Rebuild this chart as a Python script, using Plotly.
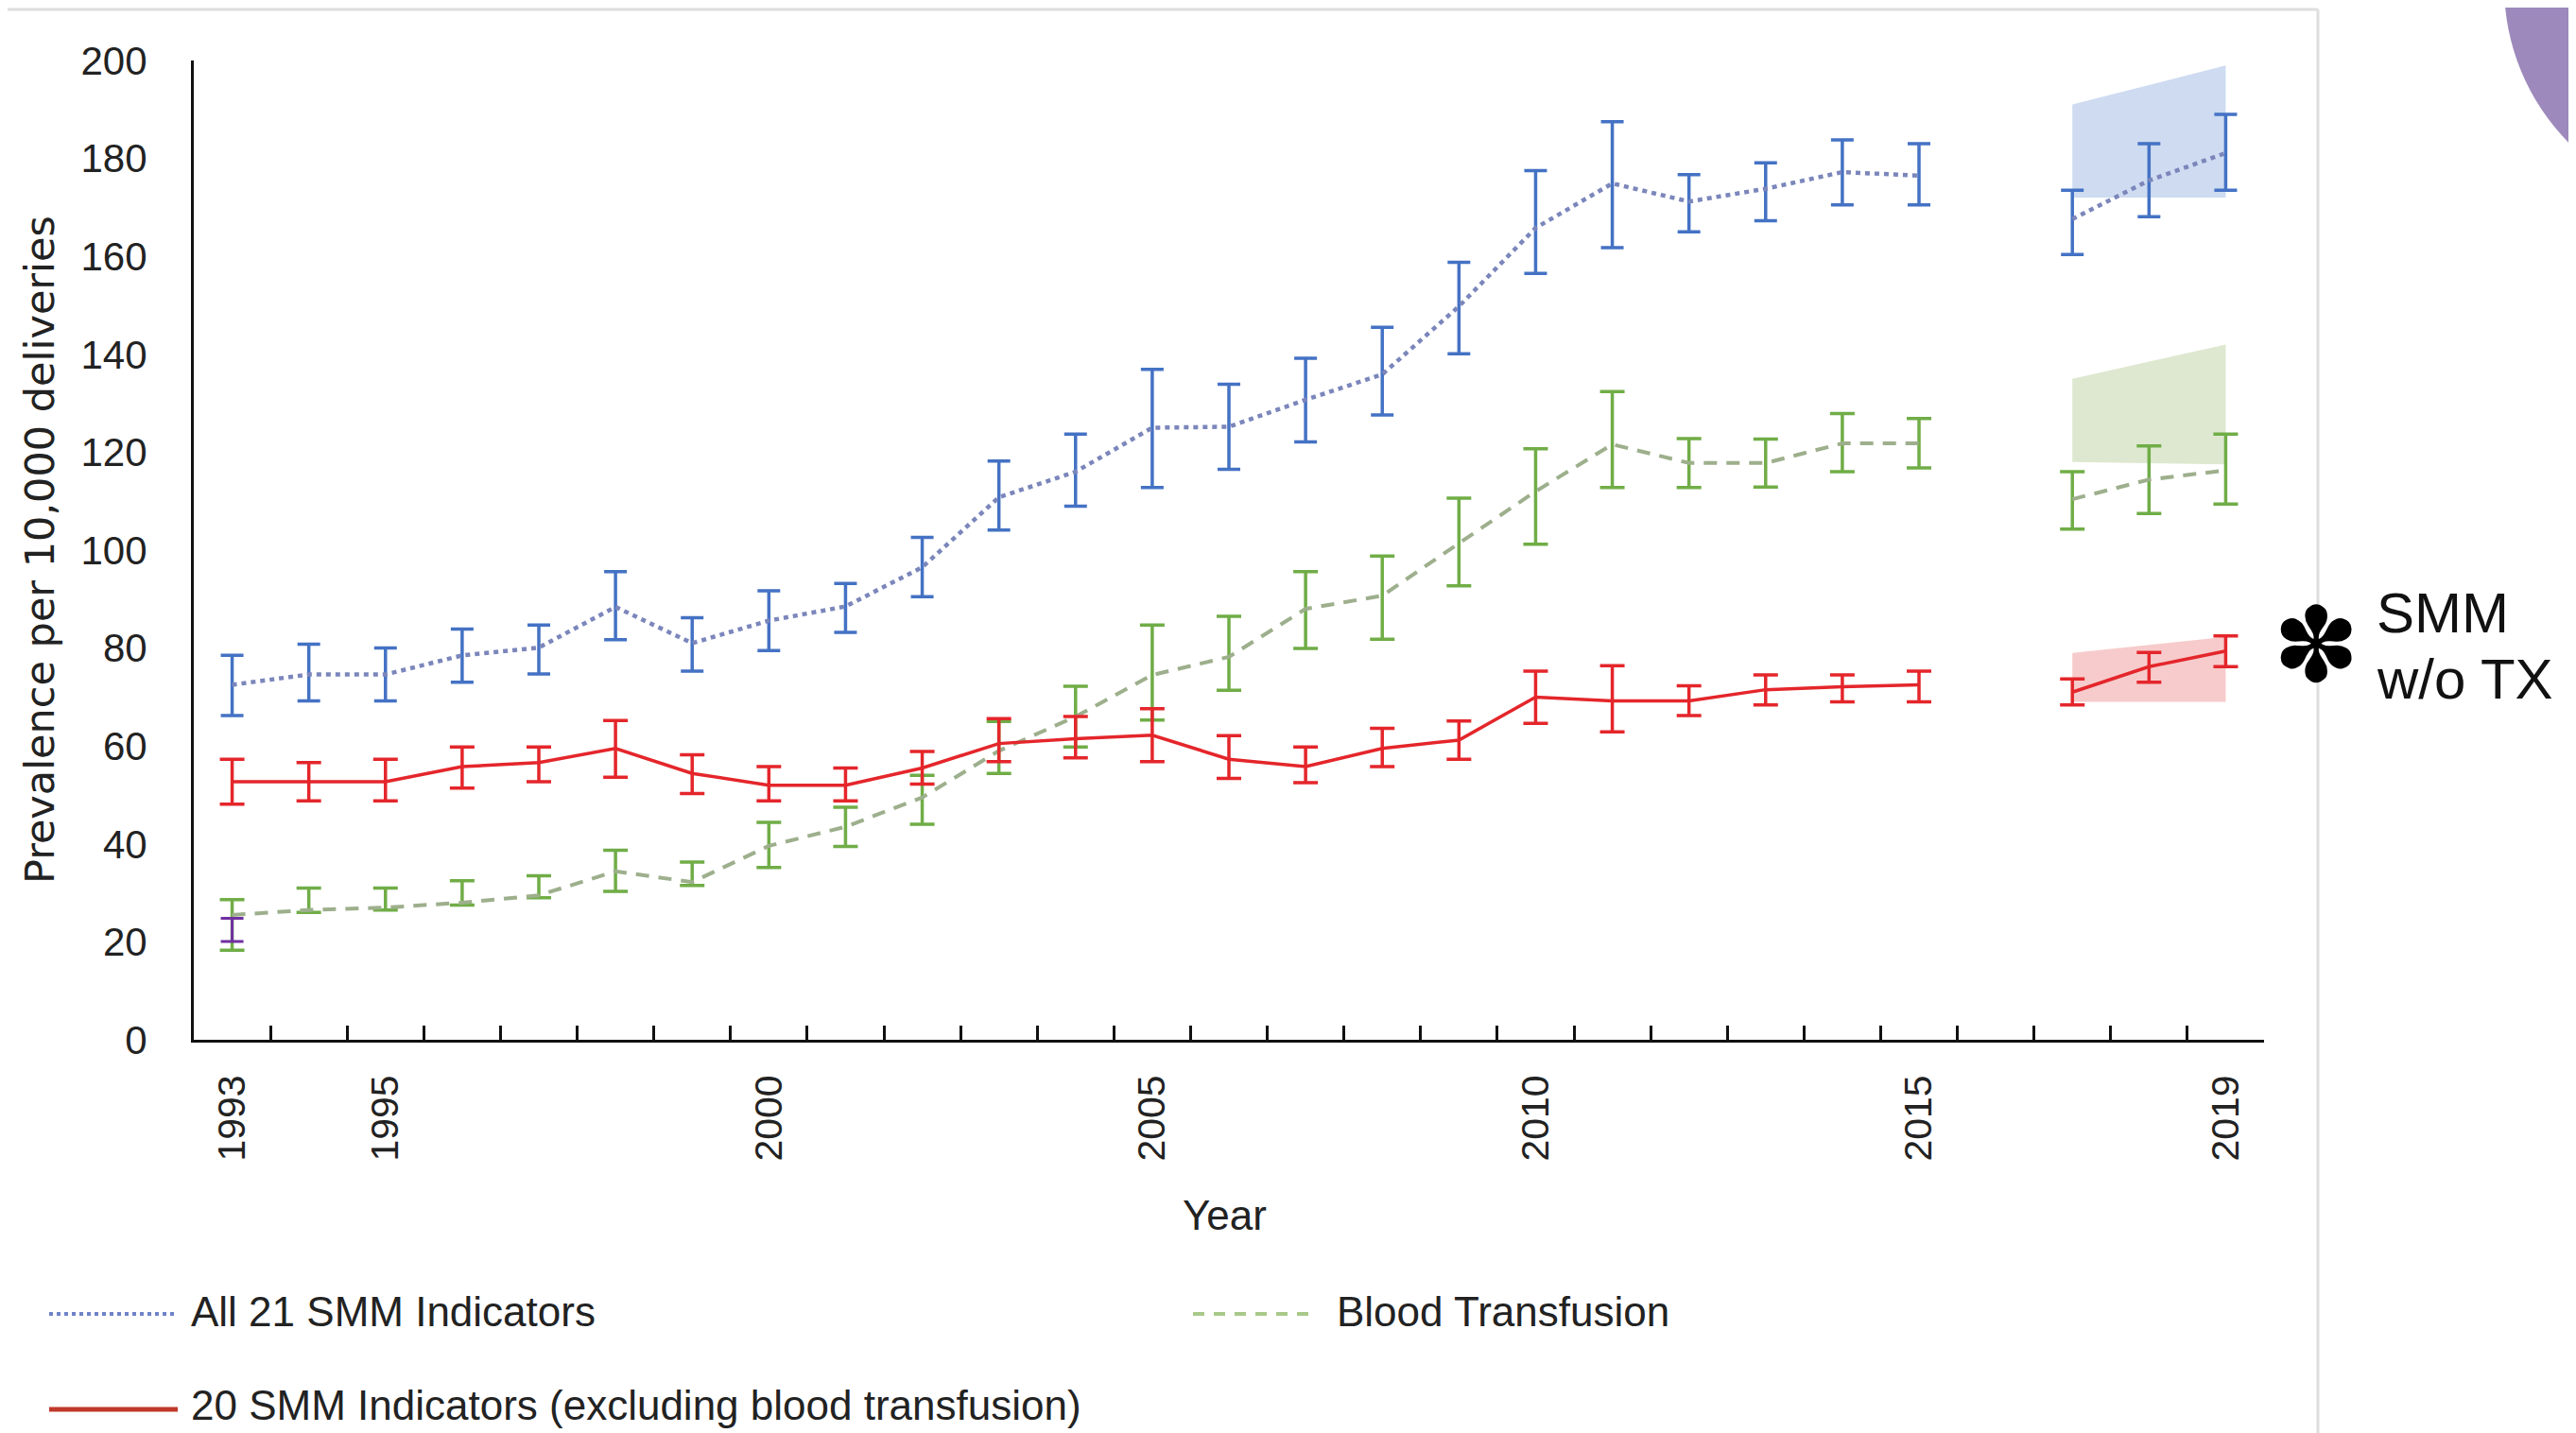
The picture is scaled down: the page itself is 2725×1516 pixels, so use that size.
import plotly.graph_objects as go

# ---------------- data ----------------
years = [1993, 1994, 1995, 1996, 1997, 1998, 1999, 2000, 2001, 2002, 2003, 2004, 2005,
         2006, 2007, 2008, 2009, 2010, 2011, 2012, 2013, 2014, 2015, 2016, 2017, 2018, 2019]

all21_mid = [72.5, 74.6, 74.6, 78.5, 80.1, 88.4, 81.0, 85.6, 88.5, 96.5, 110.8, 116.0, 125.0,
             125.2, 130.7, 135.9, 149.8, 165.8, 174.9, 171.2, 173.8, 177.2, 176.5, None, 167.6, 175.5, 181.1]
all21_hi = [78.5, 80.8, 80.0, 83.9, 84.7, 95.6, 86.2, 91.7, 93.2, 102.6, 118.2, 123.7, 136.9,
            133.9, 139.2, 145.5, 158.8, 177.5, 187.5, 176.7, 179.1, 183.8, 183.0, None, 173.5, 183.0, 189.0]
all21_lo = [66.2, 69.2, 69.2, 73.0, 74.7, 81.7, 75.3, 79.5, 83.2, 90.5, 104.1, 109.0, 112.8,
            116.5, 122.1, 127.6, 140.1, 156.5, 161.8, 165.0, 167.3, 170.5, 170.5, None, 160.4, 168.1, 173.5]

transf_mid = [25.5, 26.5, 27.0, 28.0, 29.5, 34.4, 32.2, 39.6, 43.5, 49.5, 59.0, 66.0, 74.5,
              78.2, 88.0, 90.7, 101.4, 112.0, 121.6, 117.8, 117.8, 121.8, 121.8, None, 110.4, 114.4, 116.3]
transf_hi = [28.6, 31.0, 31.0, 32.5, 33.5, 38.7, 36.3, 44.4, 47.5, 54.0, 65.0, 72.2, 84.7,
             86.5, 95.6, 98.8, 110.6, 120.7, 132.4, 122.8, 122.7, 127.9, 126.9, None, 116.0, 121.3, 123.7]
transf_lo = [18.3, 26.0, 26.5, 27.5, 29.0, 30.3, 31.5, 35.2, 39.5, 44.0, 54.4, 59.8, 65.3,
             71.4, 79.9, 81.8, 92.7, 101.2, 112.8, 112.8, 112.9, 116.0, 116.8, None, 104.3, 107.5, 109.4]

smm20_mid = [52.7, 52.7, 52.7, 55.8, 56.6, 59.5, 54.4, 52.0, 52.0, 55.5, 60.5, 61.5, 62.2,
             57.3, 55.8, 59.5, 61.2, 70.0, 69.2, 69.2, 71.5, 72.1, 72.5, None, 71.0, 76.2, 79.4]
smm20_hi = [57.3, 56.6, 57.3, 59.8, 59.8, 65.2, 58.2, 55.8, 55.5, 58.9, 65.6, 66.0, 67.6,
            62.1, 59.8, 63.6, 65.1, 75.3, 76.4, 72.3, 74.5, 74.5, 75.3, None, 73.7, 79.1, 82.5]
smm20_lo = [48.1, 48.8, 48.8, 51.4, 52.7, 53.6, 50.3, 48.8, 48.8, 52.2, 56.8, 57.6, 56.8,
            53.4, 52.5, 55.8, 57.3, 64.6, 62.9, 66.2, 68.4, 69.0, 69.0, None, 68.4, 73.0, 76.2]

extra_year = [1993]
extra_mid = [22.5]
extra_hi = [24.8]
extra_lo = [20.1]

band_years = [2017, 2019]
all21_band_lo = [172.0, 172.0]
all21_band_hi = [191.0, 199.0]
transf_band_lo = [118.0, 117.5]
transf_band_hi = [135.0, 142.0]
smm20_band_lo = [69.0, 69.0]
smm20_band_hi = [79.0, 82.3]

tick_years = [1993, 1995, 2000, 2005, 2010, 2015, 2019]
tick_labels = [str(y) for y in tick_years]
y_ticks = list(range(0, 201, 20))

# ---------------- layout geometry (screen pixels, page body has an 8px margin) ----------------
OFF = 8
W, H = 2725 - OFF, 1516 - OFF
ML, MT = 205 - OFF, 64 - OFF
MR = W - (2395 - OFF)
MB = H - (1100 - OFF)
PW, PH = W - ML - MR, H - MT - MB


def px_x(sx):
    return (sx - OFF - ML) / PW


def px_y(sy):
    return (H - MB - (sy - OFF)) / PH


def up(mid, hi):
    return [None if m is None else h - m for m, h in zip(mid, hi)]


def down(mid, lo):
    return [None if m is None else m - l for m, l in zip(mid, lo)]


SANS = "Liberation Sans, Arial, sans-serif"

BLUE = "#4472c4"
BLUE_LINE = "#7b86bb"
GREEN = "#70ad47"
GREEN_LINE = "#9daf8c"
RED = "#e4262b"

fig = go.Figure()


def band(lo, hi, color):
    fig.add_trace(go.Scatter(
        x=[band_years[0], band_years[1], band_years[1], band_years[0], band_years[0]],
        y=[lo[0], lo[1], hi[1], hi[0], lo[0]],
        fill="toself", fillcolor=color, mode="lines", line=dict(width=0),
        hoverinfo="skip", showlegend=False))


band(all21_band_lo, all21_band_hi, "rgba(190,207,236,0.75)")
band(transf_band_lo, transf_band_hi, "rgba(214,226,196,0.8)")
band(smm20_band_lo, smm20_band_hi, "rgba(244,186,186,0.75)")

fig.add_trace(go.Scatter(
    x=years, y=transf_mid, mode="lines", name="Blood Transfusion",
    line=dict(color=GREEN_LINE, width=4, dash="14px,10px"), connectgaps=False,
    error_y=dict(type="data", symmetric=False, array=up(transf_mid, transf_hi),
                 arrayminus=down(transf_mid, transf_lo), color=GREEN, thickness=3.5, width=13),
    showlegend=False))

fig.add_trace(go.Scatter(
    x=extra_year, y=extra_mid, mode="lines", line=dict(color="#7030a0", width=3),
    error_y=dict(type="data", symmetric=False, array=up(extra_mid, extra_hi),
                 arrayminus=down(extra_mid, extra_lo), color="#7030a0", thickness=3, width=12),
    showlegend=False))

fig.add_trace(go.Scatter(
    x=years, y=all21_mid, mode="lines", name="All 21 SMM Indicators",
    line=dict(color=BLUE_LINE, width=4.5, dash="5px,5px"), connectgaps=False,
    error_y=dict(type="data", symmetric=False, array=up(all21_mid, all21_hi),
                 arrayminus=down(all21_mid, all21_lo), color=BLUE, thickness=3.5, width=12),
    showlegend=False))

fig.add_trace(go.Scatter(
    x=years, y=smm20_mid, mode="lines", name="20 SMM Indicators (excluding blood transfusion)",
    line=dict(color=RED, width=3.5), connectgaps=False,
    error_y=dict(type="data", symmetric=False, array=up(smm20_mid, smm20_hi),
                 arrayminus=down(smm20_mid, smm20_lo), color=RED, thickness=3.5, width=13),
    showlegend=False))

shapes = []
# screenshot frame
shapes.append(dict(type="line", xref="paper", yref="paper", x0=px_x(0), x1=px_x(2452),
                   y0=px_y(10), y1=px_y(10), line=dict(color="#dedede", width=3)))
shapes.append(dict(type="line", xref="paper", yref="paper", x0=px_x(2452), x1=px_x(2452),
                   y0=px_y(10), y1=px_y(1530), line=dict(color="#dedede", width=3)))
# purple corner decoration
CX, CY, R = 2885, -15, 236
shapes.append(dict(type="circle", xref="paper", yref="paper",
                   x0=px_x(CX - R), x1=px_x(CX + R),
                   y0=px_y(CY + R), y1=px_y(CY - R),
                   fillcolor="#9d89bb", line=dict(width=0), layer="above"))
# legend samples
shapes.append(dict(type="line", xref="paper", yref="paper", x0=px_x(52), x1=px_x(188),
                   y0=px_y(1390), y1=px_y(1390), line=dict(color="#6f83c8", width=4, dash="4px,4px")))
shapes.append(dict(type="line", xref="paper", yref="paper", x0=px_x(1262), x1=px_x(1392),
                   y0=px_y(1390), y1=px_y(1390), line=dict(color="#a9c98a", width=4, dash="12px,10px")))
shapes.append(dict(type="line", xref="paper", yref="paper", x0=px_x(52), x1=px_x(188),
                   y0=px_y(1491), y1=px_y(1491), line=dict(color="#c0392b", width=5)))

annotations = [
    dict(text="Prevalence per 10,000 deliveries", xref="paper", yref="paper",
         x=px_x(42), y=0.5, textangle=-90, showarrow=False, xanchor="center", yanchor="middle",
         font=dict(family="DejaVu Sans, sans-serif", size=43, color="#222222")),
    dict(text="Year", xref="paper", yref="paper", x=px_x(1295), y=px_y(1285),
         showarrow=False, xanchor="center", yanchor="middle",
         font=dict(family=SANS, size=44, color="#222222")),
    dict(text="✽", xref="paper", yref="paper", x=px_x(2450), y=px_y(683),
         showarrow=False, xanchor="center", yanchor="middle",
         font=dict(family="DejaVu Sans, sans-serif", size=110, color="#000000")),
    dict(text="SMM", xref="paper", yref="paper", x=px_x(2512), y=px_y(648),
         showarrow=False, xanchor="left", yanchor="middle", align="left",
         font=dict(family=SANS, size=60, color="#111111")),
    dict(text="w/o TX", xref="paper", yref="paper", x=px_x(2512), y=px_y(718),
         showarrow=False, xanchor="left", yanchor="middle", align="left",
         font=dict(family=SANS, size=60, color="#111111")),
    dict(text="All 21 SMM Indicators", xref="paper", yref="paper", x=px_x(200), y=px_y(1387),
         showarrow=False, xanchor="left", yanchor="middle",
         font=dict(family=SANS, size=44, color="#222222")),
    dict(text="Blood Transfusion", xref="paper", yref="paper", x=px_x(1412), y=px_y(1387),
         showarrow=False, xanchor="left", yanchor="middle",
         font=dict(family=SANS, size=44, color="#222222")),
    dict(text="20 SMM Indicators (excluding blood transfusion)", xref="paper", yref="paper",
         x=px_x(200), y=px_y(1486), showarrow=False, xanchor="left", yanchor="middle",
         font=dict(family=SANS, size=44, color="#222222")),
]

fig.update_layout(
    width=W, height=H, autosize=False,
    margin=dict(l=ML, r=MR, t=MT, b=MB, pad=0),
    paper_bgcolor="white", plot_bgcolor="white",
    showlegend=False,
    shapes=shapes, annotations=annotations,
    xaxis=dict(range=[1992.5, 2019.5], tickmode="array", tickvals=tick_years, ticktext=tick_labels,
               tickangle=-90, ticks="inside", ticklen=1, tickcolor="rgba(0,0,0,0)",
               ticklabelstandoff=18,
               tickfont=dict(family=SANS, size=41, color="#222222"),
               showline=True, linecolor="#111111", linewidth=3, showgrid=False, zeroline=False,
               minor=dict(tickmode="linear", tick0=1992.5, dtick=1, ticks="inside", ticklen=15,
                          tickwidth=3, tickcolor="#111111", showgrid=False)),
    yaxis=dict(range=[0, 200], tickmode="array", tickvals=y_ticks,
               ticks="", ticklabelstandoff=38,
               tickfont=dict(family=SANS, size=42, color="#222222"),
               showline=True, linecolor="#111111", linewidth=3, showgrid=False, zeroline=False),
)

fig.write_html("out.html")
